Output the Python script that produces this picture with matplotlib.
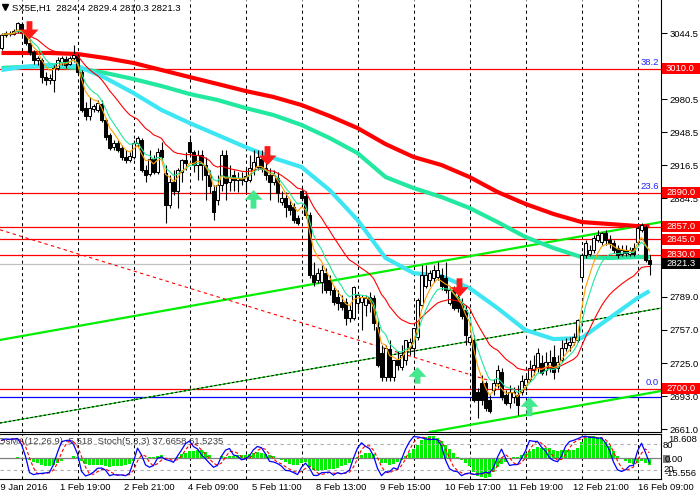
import numpy as np
import matplotlib
matplotlib.use("Agg")
import matplotlib.pyplot as plt
from matplotlib.patches import Rectangle

plt.rcParams['font.family'] = ['Liberation Sans', 'DejaVu Sans']
FS = 6.8

# hourly SX5E bars
opens = [3030, 3043, 3045, 3044, 3046, 3053, 3045, 3035, 3026, 3018, 3018, 3002, 2999, 2999, 3011, 3016, 3019, 3015, 3020, 3022,
         3007, 2972, 2964, 2971, 2970, 2976, 2960, 2946, 2934, 2938, 2933, 2924, 2922, 2924, 2938, 2941, 2912, 2908, 2923, 2910,
         2931, 2909, 2878, 2900, 2892, 2910, 2922, 2939, 2929, 2917, 2926, 2917, 2907, 2892, 2883, 2897, 2926, 2900, 2907, 2902,
         2904, 2901, 2902, 2912, 2915, 2923, 2914, 2907, 2900, 2904, 2881, 2885, 2878, 2876, 2865, 2892, 2887, 2868, 2810, 2805,
         2803, 2812, 2805, 2796, 2789, 2784, 2784, 2769, 2769, 2783, 2784, 2781, 2789, 2788, 2760, 2735, 2711, 2739, 2711, 2728,
         2721, 2728, 2740, 2740, 2750, 2781, 2800, 2805, 2807, 2808, 2810, 2807, 2783, 2796, 2789, 2783, 2776, 2745, 2747, 2697,
         2706, 2706, 2689, 2699, 2706, 2716, 2694, 2686, 2692, 2694, 2697, 2704, 2710, 2718, 2721, 2725, 2718, 2720, 2731, 2720,
         2728, 2740, 2742, 2745, 2747, 2808, 2830, 2831, 2834, 2844, 2842, 2851, 2844, 2841, 2836, 2831, 2834, 2831, 2836, 2842,
         2854, 2857, 2824.4]
highs = [3045, 3046, 3046, 3048, 3055, 3055, 3047, 3038, 3028, 3022, 3020, 3007, 3005, 3014, 3021, 3022, 3022, 3022, 3033, 3024,
         3009, 2978, 2983, 2976, 2980, 2980, 2962, 2948, 2941, 2941, 2936, 2931, 2929, 2941, 2945, 2943, 2917, 2931, 2926, 2933,
         2939, 2917, 2907, 2912, 2914, 2923, 2929, 2943, 2931, 2931, 2931, 2924, 2912, 2897, 2907, 2931, 2931, 2917, 2912, 2910,
         2910, 2914, 2926, 2931, 2931, 2931, 2922, 2914, 2912, 2910, 2892, 2891, 2883, 2880, 2868, 2895, 2892, 2871, 2823, 2817,
         2820, 2817, 2810, 2800, 2796, 2791, 2788, 2781, 2800, 2794, 2791, 2791, 2794, 2791, 2767, 2742, 2742, 2747, 2728, 2737,
         2742, 2747, 2749, 2759, 2788, 2820, 2820, 2815, 2820, 2823, 2817, 2823, 2800, 2800, 2794, 2788, 2781, 2752, 2752, 2701,
         2713, 2708, 2694, 2710, 2723, 2720, 2699, 2704, 2702, 2704, 2713, 2713, 2728, 2733, 2740, 2733, 2736, 2738, 2742, 2733,
         2747, 2749, 2750, 2754, 2768, 2832, 2844, 2839, 2849, 2854, 2852, 2854, 2849, 2844, 2839, 2839, 2839, 2837, 2841, 2858,
         2861, 2859, 2829.4]
lows = [3028, 3041, 3042, 3043, 3045, 3042, 3033, 3023, 3015, 3014, 2996, 2994, 2995, 2987, 3009, 3014, 3011, 3014, 3016, 3004,
        2968, 2960, 2960, 2968, 2968, 2958, 2941, 2931, 2931, 2929, 2922, 2919, 2920, 2923, 2934, 2910, 2900, 2906, 2908, 2908,
        2922, 2861, 2875, 2888, 2875, 2900, 2912, 2925, 2910, 2902, 2902, 2883, 2890, 2863, 2878, 2892, 2883, 2892, 2892, 2891,
        2897, 2891, 2900, 2907, 2912, 2910, 2902, 2883, 2897, 2881, 2878, 2866, 2868, 2861, 2859, 2883, 2865, 2807, 2800, 2802,
        2793, 2793, 2791, 2781, 2776, 2776, 2762, 2765, 2767, 2776, 2757, 2771, 2774, 2757, 2721, 2708, 2708, 2708, 2708, 2718,
        2718, 2723, 2733, 2733, 2747, 2779, 2798, 2800, 2803, 2805, 2796, 2793, 2781, 2776, 2774, 2768, 2742, 2742, 2687, 2672,
        2684, 2679, 2677, 2694, 2701, 2689, 2684, 2681, 2686, 2675, 2694, 2699, 2707, 2713, 2716, 2713, 2713, 2716, 2710, 2716,
        2726, 2737, 2737, 2742, 2745, 2805, 2827, 2829, 2832, 2842, 2839, 2839, 2836, 2832, 2827, 2829, 2829, 2829, 2829, 2839,
        2852, 2823, 2810.3]
closes = [3043, 3045, 3044, 3046, 3054, 3045, 3035, 3026, 3018, 3020, 3002, 2999, 3001, 3011, 3018, 3020, 3014, 3020, 3023, 3007,
          2970, 2964, 2972, 2974, 2977, 2960, 2944, 2933, 2938, 2931, 2924, 2922, 2925, 2938, 2943, 2912, 2907, 2923, 2910, 2929,
          2924, 2878, 2900, 2892, 2912, 2922, 2919, 2929, 2917, 2926, 2917, 2907, 2896, 2871, 2897, 2926, 2899, 2905, 2902, 2904,
          2902, 2906, 2914, 2920, 2924, 2914, 2907, 2900, 2907, 2890, 2885, 2876, 2873, 2863, 2861, 2885, 2868, 2810, 2803, 2812,
          2815, 2796, 2796, 2784, 2783, 2779, 2769, 2776, 2799, 2791, 2789, 2788, 2783, 2764, 2723, 2711, 2740, 2711, 2728, 2723,
          2733, 2747, 2745, 2759, 2786, 2810, 2810, 2812, 2815, 2815, 2800, 2796, 2796, 2778, 2778, 2771, 2752, 2750, 2689, 2689,
          2689, 2681, 2679, 2706, 2718, 2692, 2686, 2697, 2697, 2684, 2708, 2710, 2720, 2723, 2735, 2715, 2726, 2726, 2716, 2726,
          2740, 2744, 2745, 2750, 2767, 2830, 2841, 2834, 2846, 2849, 2851, 2844, 2841, 2834, 2830, 2834, 2832, 2834, 2831, 2856,
          2859, 2825, 2821.3]

# slow moving averages, read at a few bars
ma_bars = [0, 5, 12, 19, 26, 33, 40, 47, 54, 61, 68, 75, 82, 89, 96, 103, 110, 117, 124, 131, 138, 145, 152, 159, 162]
ma_cyan = [3008.7, 3011.6, 3013.6, 3012.6, 3001.0, 2986.4, 2970.0, 2957.4, 2945.8, 2934.1, 2923.5, 2914.8, 2892.5,
           2863.5, 2826.7, 2812.1, 2809.2, 2797.6, 2778.2, 2756.9, 2748.2, 2749.2, 2768.5, 2787.9, 2794.7]
ma_teal = [3010.7, 3011.6, 3012.6, 3010.7, 3005.8, 3000.0, 2993.2, 2985.5, 2979.7, 2971.9, 2965.1, 2955.5, 2942.9,
           2928.3, 2905.1, 2894.4, 2885.7, 2875.1, 2861.5, 2847.0, 2836.3, 2827.6, 2826.7, 2827.6, 2827.6]
ma_red = [3025.2, 3025.2, 3025.2, 3024.2, 3020.3, 3015.5, 3008.7, 3001.9, 2995.2, 2988.4, 2982.6, 2974.8, 2964.2,
          2952.5, 2937.0, 2924.5, 2916.7, 2905.1, 2890.6, 2879.0, 2869.3, 2861.5, 2859.6, 2857.6, 2857.6]

red_levels = [3010.0, 2890.0, 2857.0, 2845.0, 2830.0, 2700.0]
fib_levels = [3010.0, 2890.0, 2700.0]
fib_texts = ['38.2', '23.6', '0.0']
blue_level = 2692.0
last_price = 2821.3

# trend lines: (bar, price) end points
green_up = [(-0.4, 2747.3), (164.9, 2861.5)]
green_low = [(107.1, 2658.2), (164.9, 2697.9)]
dash_line = [(-0.4, 2666.9), (164.9, 2778.2)]
red_dash = [(-0.4, 2854.0), (122.0, 2708.0)]

# signal arrows: bar, tip price, tail price
down_arrows = [(7, 3038.5, 3056.0), (66.5, 2916.5, 2935.0), (114.5, 2789.0, 2807.0)]
up_arrows = [(63, 2892.5, 2874.5), (104, 2721.0, 2705.0), (132, 2692.0, 2673.5)]

grid_bars = [5, 19, 33, 47, 61, 75, 89, 103, 117, 131, 145, 159]
time_labels = ['29 Jan 2016', '1 Feb 19:00', '2 Feb 21:00', '4 Feb 09:00', '5 Feb 11:00', '8 Feb 13:00',
               '9 Feb 15:00', '10 Feb 17:00', '11 Feb 19:00', '12 Feb 21:00', '16 Feb 09:00']
time_bars = [-1.6, 14.6, 30.6, 46.6, 62.6, 78.6, 94.6, 110.8, 126.7, 142.9, 159.1]
price_ticks = [3044.5, 2980.5, 2948.5, 2916.5, 2884.5, 2789.0, 2757.0, 2725.0, 2693.0, 2661.0]


def ema(vals, n):
    a = 2.0 / (n + 1)
    out = [vals[0]]
    for v in vals[1:]:
        out.append(out[-1] + a * (v - out[-1]))
    return np.array(out)


def sma(vals, n):
    return np.array([np.mean(vals[max(0, i - n + 1):i + 1]) for i in range(len(vals))])


o = np.array(opens)
h = np.array(highs)
l = np.array(lows)
c = np.array(closes)
idx = np.arange(len(c))

macd = ema(c, 12) - ema(c, 26)
osma = macd - sma(macd, 9)
hh = np.array([h[max(0, i - 4):i + 1].max() for i in idx])
ll = np.array([l[max(0, i - 4):i + 1].min() for i in idx])
num = np.array([(c - ll)[max(0, i - 2):i + 1].sum() for i in idx])
den = np.array([(hh - ll)[max(0, i - 2):i + 1].sum() for i in idx])
stoch_k = 100 * num / np.where(den == 0, 1, den)
stoch_d = sma(stoch_k, 3)

fig = plt.figure(figsize=(7, 5), dpi=100)
ax = fig.add_axes([0, 68 / 500, 661 / 700, 432 / 500])
ax2 = fig.add_axes([0, 21.5 / 500, 661 / 700, 44.5 / 500])
XL = (-0.375, 164.875)

for a in (ax, ax2):
    a.set_xlim(*XL)
    a.set_xticks([])
    for s in ('left', 'top'):
        a.spines[s].set_visible(False)
    for g in grid_bars:
        a.axvline(g, color='black', lw=0.75, ls=(0, (3, 3)), zorder=1)
ax2.spines['top'].set_visible(True)

ax.set_ylim(2658.2, 3076.5)
ax.yaxis.tick_right()
ax.set_yticks(price_ticks)
ax.set_yticklabels(['%.1f' % t for t in price_ticks])
ax.tick_params(axis='y', length=4, width=0.75, pad=2, labelsize=FS)

# horizontal levels
for lv in red_levels:
    ax.axhline(lv, color='#ff0000', lw=0.9, zorder=2)
ax.axhline(last_price, color='#c0c0c0', lw=0.9, zorder=2)
ax.axhline(blue_level, color='#0000ff', lw=0.9, zorder=2)

# trend lines
ax.plot(*zip(*green_up), color='#00ee00', lw=1.6, zorder=3)
ax.plot(*zip(*green_low), color='#00ee00', lw=1.6, zorder=3)
ax.plot(*zip(*dash_line), color='#00dd00', lw=0.8, zorder=3)
ax.plot(*zip(*dash_line), color='black', lw=0.8, ls=(0, (2, 2)), zorder=3)
ax.plot(*zip(*red_dash), color='#ff0000', lw=0.8, ls=(0, (3, 3)), zorder=3)

# slow MAs
ax.plot(ma_bars, ma_red, color='#ff0000', lw=3.0, zorder=4, solid_capstyle='butt')
ax.plot(ma_bars, ma_teal, color='#22e8a0', lw=3.0, zorder=4, solid_capstyle='butt')
ax.plot(ma_bars, ma_cyan, color='#3ee6f4', lw=3.0, zorder=4, solid_capstyle='butt')

# candles
up = c >= o
ax.vlines(idx, l, h, color='black', lw=0.8, zorder=5)
ax.bar(idx[up], (c - o)[up], bottom=o[up], width=0.7, color='white', edgecolor='black', lw=0.75, zorder=6)
ax.bar(idx[~up], (c - o)[~up], bottom=o[~up], width=0.7, color='black', edgecolor='black', lw=0.75, zorder=6)

# fast MAs
ax.plot(idx, ema(c, 21), color='#ff0000', lw=0.8, zorder=7)
ax.plot(idx, ema(c, 8), color='#22e89a', lw=0.8, zorder=7)
ax.plot(idx, ema(c, 5), color='#ffa000', lw=0.8, zorder=7)

for b, tip, tail in down_arrows:
    ax.annotate('', xy=(b, tip), xytext=(b, tail), zorder=8,
                arrowprops=dict(facecolor='#ff1a1a', edgecolor='none', width=4.2, headwidth=13, headlength=7, shrink=0))
for b, tip, tail in up_arrows:
    ax.annotate('', xy=(b, tip), xytext=(b, tail), zorder=8,
                arrowprops=dict(facecolor='#44e88e', edgecolor='none', width=4.2, headwidth=13, headlength=7, shrink=0))

ytr = ax.get_yaxis_transform()
for lv, t in zip(fib_levels, fib_texts):
    ax.text(659 / 661, lv + 1.5, t, transform=ytr, color='#2020ff', fontsize=FS, ha='right', va='bottom', zorder=9)

box_h = 11 * 0.9684
for lv in red_levels + [last_price]:
    fc = 'black' if lv == last_price else '#ff0000'
    ax.add_patch(Rectangle((662 / 661, lv - box_h / 2), 38 / 661, box_h, transform=ytr,
                           facecolor=fc, edgecolor='none', clip_on=False, zorder=10))
    ax.text(666 / 661, lv, '%.1f' % lv, transform=ytr, color='white', fontsize=FS,
            ha='left', va='center', zorder=11, clip_on=False)

ax.plot([5 / 661], [1 - 7 / 432], marker='v', ms=4, color='black', transform=ax.transAxes, clip_on=False)
ax.text(12 / 661, 1 - 8 / 432, 'SX5E,H1  %.1f %.1f %.1f %.1f' % (o[-1], h[-1], l[-1], c[-1]),
        transform=ax.transAxes, fontsize=FS, ha='left', va='center', zorder=12)

# indicator window
ax2.set_ylim(-15.556, 18.608)
ax2.set_yticks([])
ax2.bar(idx, osma, width=0.75, color='#00ee00', zorder=2)
ax2.axhline(0, color='#808080', lw=0.9, zorder=3)
st = ax2.twinx()
st.set_ylim(-0.5, 102.8)
st.set_xlim(*XL)
st.set_yticks([])
for s in ('left', 'top', 'right', 'bottom'):
    st.spines[s].set_visible(False)
for lv in (80, 20):
    st.axhline(lv, color='#b0b0b0', lw=0.8, ls=(0, (3, 3)), zorder=1)
st.plot(idx, stoch_d, color='#ff0000', lw=0.8, ls=(0, (3, 2)), zorder=4)
st.plot(idx, stoch_k, color='#0000ff', lw=0.9, zorder=5)

ax2.text(-2 / 661, (478.5 - 442) / 44.5, 'OsMA(12,26,9) -5.518  Stoch(5,3,3) 37.6658 61.5235',
         transform=ax2.transAxes, fontsize=FS, color='#404040', ha='left', va='center', zorder=10)

atr = ax2.transAxes
ax2.add_patch(Rectangle((663 / 661, (478.5 - 463) / 44.5), 7 / 661, 8 / 44.5, transform=atr,
                        facecolor='#808080', edgecolor='none', clip_on=False))
for txt, xp, yp in [('18.608', 668, 440), ('80', 663, 446), ('0.00', 665, 459),
                    ('20', 663, 469), ('-15.556', 665, 473)]:
    ax2.text(xp / 661, (478.5 - yp) / 44.5, txt, transform=atr, fontsize=FS, ha='left', va='center', clip_on=False)

xtr = ax2.get_xaxis_transform()
for b, t in zip(time_bars, time_labels):
    ax2.text(b, -(488 - 478.5) / 44.5, t, transform=xtr, fontsize=FS, ha='left', va='center', clip_on=False)

fig.savefig('out.png', dpi=100)
